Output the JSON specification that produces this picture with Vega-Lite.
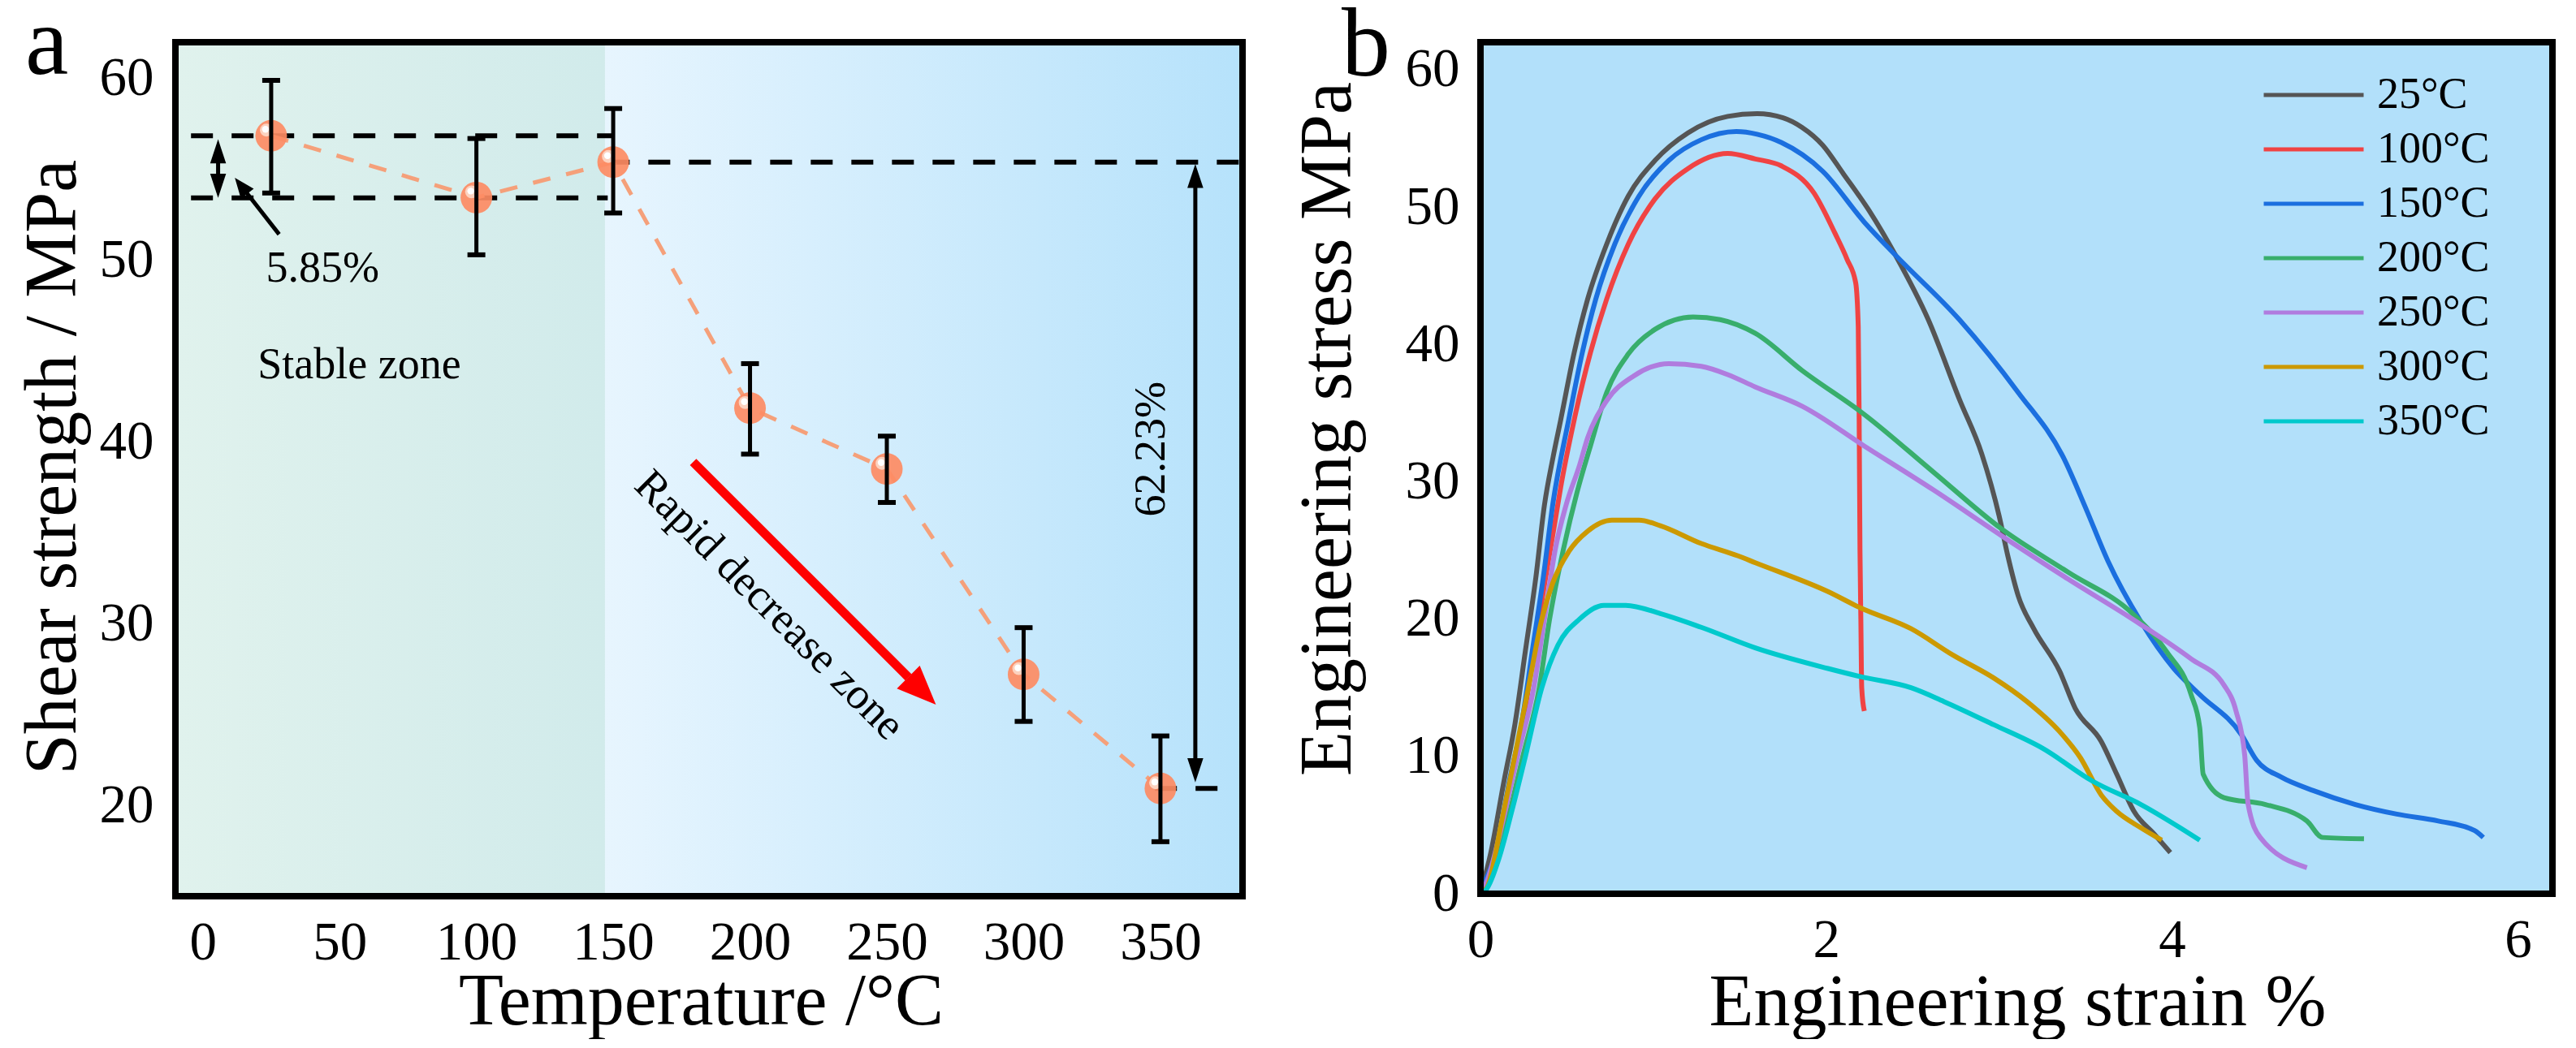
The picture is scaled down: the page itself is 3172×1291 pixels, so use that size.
{
  "$schema": "https://vega.github.io/schema/vega-lite/v6.json",
  "background": "white",
  "padding": {"left": 19, "top": -5, "right": 0, "bottom": 0},
  "bounds": "flush",
  "spacing": 293,
  "config": {
    "font": "Liberation Serif",
    "view": {"stroke": null},
    "axis": {
      "zindex": 2, "domain": false, "grid": false,
      "labelFont": "Liberation Serif", "labelFontSize": 67, "labelColor": "black",
      "labelFlush": false, "labelOverlap": false, "labelBound": false,
      "titleFont": "Liberation Serif", "titleFontSize": 90, "titleFontWeight": "normal", "titleColor": "black",
      "tickColor": "black", "tickWidth": 7
    }
  },
  "hconcat": [
    {
      "width": 1314,
      "height": 1052,
      "title": {"text": "a", "anchor": "start", "frame": "group", "fontSize": 120, "font": "Liberation Serif", "fontWeight": "normal", "color": "black", "offset": 0, "dx": -185, "dy": 163, "baseline": "alphabetic"},
      "layer": [
        {
          "data": {"values": [{"x0": -10, "x1": 147}]},
          "mark": {"type": "rect", "fill": {"gradient": "linear", "x1": 0, "y1": 0, "x2": 1, "y2": 0, "stops": [{"offset": 0, "color": "#e0f2ed"}, {"offset": 1, "color": "#d1ebeb"}]}},
          "encoding": {
            "x": {
              "field": "x0", "type": "quantitative",
              "scale": {"domain": [-10, 380], "nice": false, "zero": false},
              "title": "Temperature /°C",
              "axis": {
                "values": [0, 25, 50, 75, 100, 125, 150, 175, 200, 225, 250, 275, 300, 325, 350, 375],
                "labelExpr": "datum.value % 50 === 0 ? '' + datum.value : ''",
                "tickSize": {"condition": {"test": "datum.value % 50 === 0", "value": -17}, "value": -9},
                "labelPadding": 94, "labelBaseline": "alphabetic",
                "titleX": 647, "titleY": 157, "titleBaseline": "alphabetic"
              }
            },
            "x2": {"field": "x1"}
          }
        },
        {
          "data": {"values": [{"x0": 147, "x1": 380}]},
          "mark": {"type": "rect", "fill": {"gradient": "linear", "x1": 0, "y1": 0, "x2": 1, "y2": 0, "stops": [{"offset": 0, "color": "#e7f5fe"}, {"offset": 1, "color": "#b6e2fb"}]}},
          "encoding": {"x": {"field": "x0", "type": "quantitative"}, "x2": {"field": "x1"}}
        },
        {
          "data": {"values": [
            {"x0": -4.3, "x1": 150, "y": 56.85},
            {"x0": -4.3, "x1": 148, "y": 53.43},
            {"x0": 148, "x1": 380, "y": 55.4},
            {"x0": 348, "x1": 372, "y": 20.93}
          ]},
          "mark": {"type": "rule", "color": "black", "strokeWidth": 6, "strokeDash": [27, 23]},
          "encoding": {
            "x": {"field": "x0", "type": "quantitative"},
            "x2": {"field": "x1"},
            "y": {
              "field": "y", "type": "quantitative",
              "scale": {"domain": [15, 62], "nice": false, "zero": false},
              "title": "Shear strength / MPa",
              "axis": {
                "values": [20, 25, 30, 35, 40, 45, 50, 55, 60],
                "labelExpr": "datum.value % 10 === 0 ? '' + datum.value : ''",
                "tickSize": {"condition": {"test": "datum.value % 10 === 0", "value": -19}, "value": -10},
                "labelPadding": 46,
                "titleX": -124, "titleY": 523, "titleBaseline": "alphabetic", "titleAngle": 270
              }
            }
          }
        },
        {
          "data": {"name": "shear"},
          "mark": {"type": "line", "color": "#f5a07a", "strokeWidth": 5, "strokeDash": [22, 20]},
          "encoding": {"x": {"field": "T", "type": "quantitative"}, "y": {"field": "S", "type": "quantitative"}}
        },
        {
          "data": {"name": "shear"},
          "mark": {"type": "circle", "color": "#fd8b63", "opacity": 0.92, "size": 1520},
          "encoding": {"x": {"field": "T", "type": "quantitative"}, "y": {"field": "S", "type": "quantitative"}}
        },
        {
          "data": {"name": "shear"},
          "mark": {"type": "circle", "color": "#fcd2bf", "opacity": 1, "size": 250, "xOffset": -6, "yOffset": -7},
          "encoding": {"x": {"field": "T", "type": "quantitative"}, "y": {"field": "S", "type": "quantitative"}}
        },
        {
          "data": {"name": "shear"},
          "mark": {"type": "circle", "color": "white", "opacity": 1, "size": 70, "xOffset": -7, "yOffset": -8},
          "encoding": {"x": {"field": "T", "type": "quantitative"}, "y": {"field": "S", "type": "quantitative"}}
        },
        {
          "data": {"name": "shear"},
          "mark": {"type": "rule", "color": "black", "strokeWidth": 5},
          "encoding": {"x": {"field": "T", "type": "quantitative"}, "y": {"field": "lo", "type": "quantitative"}, "y2": {"field": "hi"}}
        },
        {
          "data": {"name": "shear"},
          "mark": {"type": "tick", "color": "black", "orient": "horizontal", "size": 22, "thickness": 6, "opacity": 1},
          "encoding": {"x": {"field": "T", "type": "quantitative"}, "y": {"field": "lo", "type": "quantitative"}}
        },
        {
          "data": {"name": "shear"},
          "mark": {"type": "tick", "color": "black", "orient": "horizontal", "size": 22, "thickness": 6, "opacity": 1},
          "encoding": {"x": {"field": "T", "type": "quantitative"}, "y": {"field": "hi", "type": "quantitative"}}
        },
        {
          "data": {"values": [{"x": 179.2, "y": 38.9, "x2": 257.9, "y2": 27.05}]},
          "mark": {"type": "rule", "color": "#ff0000", "strokeWidth": 11},
          "encoding": {"x": {"field": "x", "type": "quantitative"}, "y": {"field": "y", "type": "quantitative"}, "x2": {"field": "x2"}, "y2": {"field": "y2"}}
        },
        {
          "data": {"values": [{"x": 262.9, "y": 26.3}]},
          "mark": {"type": "point", "shape": "M0,-1L0.83,1L-0.83,1Z", "filled": true, "color": "#ff0000", "opacity": 1, "size": 2304, "angle": 135},
          "encoding": {"x": {"field": "x", "type": "quantitative"}, "y": {"field": "y", "type": "quantitative"}}
        },
        {
          "data": {"values": [
            {"x": 5.6, "y": 56.0, "x2": 5.6, "y2": 54.1},
            {"x": 27.9, "y": 51.43, "x2": 14.0, "y2": 54.1},
            {"x": 362.75, "y": 54.64, "x2": 362.75, "y2": 21.93}
          ]},
          "mark": {"type": "rule", "color": "black", "strokeWidth": 5},
          "encoding": {"x": {"field": "x", "type": "quantitative"}, "y": {"field": "y", "type": "quantitative"}, "x2": {"field": "x2"}, "y2": {"field": "y2"}}
        },
        {
          "data": {"values": [{"x": 5.6, "y": 56.0}, {"x": 362.75, "y": 54.64}]},
          "mark": {"type": "point", "shape": "M0,-1L0.66,1L-0.66,1Z", "filled": true, "color": "black", "opacity": 1, "size": 880, "angle": 0},
          "encoding": {"x": {"field": "x", "type": "quantitative"}, "y": {"field": "y", "type": "quantitative"}}
        },
        {
          "data": {"values": [{"x": 5.6, "y": 54.1}, {"x": 362.75, "y": 21.93}]},
          "mark": {"type": "point", "shape": "M0,-1L0.66,1L-0.66,1Z", "filled": true, "color": "black", "opacity": 1, "size": 880, "angle": 180},
          "encoding": {"x": {"field": "x", "type": "quantitative"}, "y": {"field": "y", "type": "quantitative"}}
        },
        {
          "data": {"values": [{"x": 14.0, "y": 54.1}]},
          "mark": {"type": "point", "shape": "M0,-1L0.8,1L-0.8,1Z", "filled": true, "color": "black", "opacity": 1, "size": 625, "angle": -38},
          "encoding": {"x": {"field": "x", "type": "quantitative"}, "y": {"field": "y", "type": "quantitative"}}
        },
        {
          "data": {"values": [{"label": "5.85%", "x": 43.8, "y": 48.8}, {"label": "Stable zone", "x": 57.2, "y": 43.5}]},
          "mark": {"type": "text", "font": "Liberation Serif", "fontSize": 54, "color": "black", "align": "center", "baseline": "alphabetic"},
          "encoding": {"x": {"field": "x", "type": "quantitative"}, "y": {"field": "y", "type": "quantitative"}, "text": {"field": "label"}}
        },
        {
          "data": {"values": [{"label": "62.23%", "x": 351.5, "y": 39.6}]},
          "mark": {"type": "text", "font": "Liberation Serif", "fontSize": 54, "color": "black", "align": "center", "baseline": "alphabetic", "angle": 270},
          "encoding": {"x": {"field": "x", "type": "quantitative"}, "y": {"field": "y", "type": "quantitative"}, "text": {"field": "label"}}
        },
        {
          "data": {"values": [{"label": "Rapid decrease zone", "x": 207, "y": 31}]},
          "mark": {"type": "text", "font": "Liberation Serif", "fontSize": 54, "color": "black", "align": "center", "baseline": "middle", "angle": 45},
          "encoding": {"x": {"field": "x", "type": "quantitative"}, "y": {"field": "y", "type": "quantitative"}, "text": {"field": "label"}}
        },
        {
          "data": {"values": [{"x0": -10, "x1": 380, "y0": 15, "y1": 62}]},
          "mark": {"type": "rect", "fillOpacity": 0, "stroke": "black", "strokeWidth": 8},
          "encoding": {"x": {"field": "x0", "type": "quantitative"}, "x2": {"field": "x1"}, "y": {"field": "y0", "type": "quantitative"}, "y2": {"field": "y1"}}
        }
      ]
    },
    {
      "width": 1320,
      "height": 1049,
      "title": {"text": "b", "anchor": "start", "frame": "group", "fontSize": 120, "font": "Liberation Serif", "fontWeight": "normal", "color": "black", "offset": 0, "dx": -171, "dy": 165, "baseline": "alphabetic"},
      "layer": [
        {
          "data": {"values": [{"x0": 0, "x1": 6.2}]},
          "mark": {"type": "rect", "fill": "#b2e0fa"},
          "encoding": {
            "x": {
              "field": "x0", "type": "quantitative",
              "scale": {"domain": [0, 6.2], "nice": false, "zero": false},
              "title": "Engineering strain %",
              "axis": {
                "values": [0, 1, 2, 3, 4, 5, 6],
                "labelExpr": "datum.value % 2 === 0 ? '' + datum.value : ''",
                "tickSize": {"condition": {"test": "datum.value % 2 === 0", "value": -20}, "value": -10},
                "labelPadding": 97, "labelBaseline": "alphabetic",
                "titleX": 661, "titleY": 161, "titleBaseline": "alphabetic"
              }
            },
            "x2": {"field": "x1"}
          }
        },
        {
          "data": {"name": "curves"},
          "mark": {"type": "line", "strokeWidth": 6, "interpolate": "monotone"},
          "encoding": {
            "x": {"field": "e", "type": "quantitative"},
            "y": {
              "field": "t", "type": "quantitative",
              "scale": {"domain": [0, 62], "nice": false, "zero": false},
              "title": "Engineering stress MPa",
              "axis": {
                "values": [0, 5, 10, 15, 20, 25, 30, 35, 40, 45, 50, 55, 60],
                "labelExpr": "datum.value % 10 === 0 ? '' + datum.value : ''",
                "tickSize": {"condition": {"test": "datum.value % 10 === 0", "value": -18}, "value": -9},
                "labelPadding": 44,
                "titleX": -161, "titleY": 476, "titleBaseline": "alphabetic", "titleAngle": 270
              }
            },
            "color": {
              "field": "s", "type": "nominal",
              "scale": {
                "domain": ["25°C", "100°C", "150°C", "200°C", "250°C", "300°C", "350°C"],
                "range": ["#555555", "#f04343", "#1b6fdf", "#38ae6c", "#b07cde", "#cc9900", "#00c9cc"]
              },
              "legend": {
                "title": null, "orient": "none", "legendX": 2569, "legendY": 38, "padding": 0,
                "symbolType": "stroke", "symbolSize": 15129, "symbolStrokeWidth": 5,
                "clipHeight": 54, "rowPadding": 13, "labelOffset": 14,
                "labelFont": "Liberation Serif", "labelFontSize": 54, "labelColor": "black", "labelLimit": 400
              }
            }
          }
        },
        {
          "data": {"values": [{"x0": 0, "x1": 6.2, "y0": 0, "y1": 62}]},
          "mark": {"type": "rect", "fillOpacity": 0, "stroke": "black", "strokeWidth": 8},
          "encoding": {"x": {"field": "x0", "type": "quantitative"}, "x2": {"field": "x1"}, "y": {"field": "y0", "type": "quantitative"}, "y2": {"field": "y1"}}
        }
      ]
    }
  ],
  "datasets": {
    "shear": [
      {"T": 25, "S": 56.85, "lo": 53.7, "hi": 59.9},
      {"T": 100, "S": 53.45, "lo": 50.3, "hi": 56.7},
      {"T": 150, "S": 55.4, "lo": 52.6, "hi": 58.35},
      {"T": 200, "S": 41.86, "lo": 39.33, "hi": 44.31},
      {"T": 250, "S": 38.51, "lo": 36.67, "hi": 40.32},
      {"T": 300, "S": 27.21, "lo": 24.62, "hi": 29.78},
      {"T": 350, "S": 20.93, "lo": 18.0, "hi": 23.82}
    ],
    "curves": [
      {"s": "25°C", "e": 0, "t": 0}, {"s": "25°C", "e": 0.06, "t": 3}, {"s": "25°C", "e": 0.136, "t": 8.2}, {"s": "25°C", "e": 0.2, "t": 12.4},
      {"s": "25°C", "e": 0.26, "t": 17.7}, {"s": "25°C", "e": 0.32, "t": 23}, {"s": "25°C", "e": 0.37, "t": 28.3}, {"s": "25°C", "e": 0.42, "t": 31.8},
      {"s": "25°C", "e": 0.464, "t": 34.5}, {"s": "25°C", "e": 0.542, "t": 39.4}, {"s": "25°C", "e": 0.62, "t": 43.3}, {"s": "25°C", "e": 0.73, "t": 47.3},
      {"s": "25°C", "e": 0.855, "t": 50.8}, {"s": "25°C", "e": 1.01, "t": 53.4}, {"s": "25°C", "e": 1.2, "t": 55.4}, {"s": "25°C", "e": 1.43, "t": 56.6},
      {"s": "25°C", "e": 1.6, "t": 56.8}, {"s": "25°C", "e": 1.75, "t": 56.5}, {"s": "25°C", "e": 1.86, "t": 55.8}, {"s": "25°C", "e": 1.98, "t": 54.5},
      {"s": "25°C", "e": 2.1, "t": 52.4}, {"s": "25°C", "e": 2.25, "t": 49.7}, {"s": "25°C", "e": 2.4, "t": 46.5}, {"s": "25°C", "e": 2.59, "t": 41.8},
      {"s": "25°C", "e": 2.77, "t": 36.0}, {"s": "25°C", "e": 2.9, "t": 32.0}, {"s": "25°C", "e": 3.0, "t": 27.5}, {"s": "25°C", "e": 3.05, "t": 24.6},
      {"s": "25°C", "e": 3.11, "t": 21.7}, {"s": "25°C", "e": 3.2, "t": 19.3}, {"s": "25°C", "e": 3.35, "t": 16.2}, {"s": "25°C", "e": 3.44, "t": 13.5},
      {"s": "25°C", "e": 3.59, "t": 11.1}, {"s": "25°C", "e": 3.68, "t": 8.7}, {"s": "25°C", "e": 3.78, "t": 6.0}, {"s": "25°C", "e": 3.9, "t": 4.3},
      {"s": "25°C", "e": 3.99, "t": 3.0},

      {"s": "100°C", "e": 0, "t": 0}, {"s": "100°C", "e": 0.095, "t": 3}, {"s": "100°C", "e": 0.175, "t": 8.2}, {"s": "100°C", "e": 0.245, "t": 12.4},
      {"s": "100°C", "e": 0.31, "t": 17.7}, {"s": "100°C", "e": 0.37, "t": 22.5}, {"s": "100°C", "e": 0.43, "t": 27}, {"s": "100°C", "e": 0.464, "t": 29.6},
      {"s": "100°C", "e": 0.542, "t": 34.5}, {"s": "100°C", "e": 0.636, "t": 39.4}, {"s": "100°C", "e": 0.73, "t": 43.3}, {"s": "100°C", "e": 0.855, "t": 47.3},
      {"s": "100°C", "e": 1.01, "t": 50.6}, {"s": "100°C", "e": 1.2, "t": 52.8}, {"s": "100°C", "e": 1.43, "t": 53.9}, {"s": "100°C", "e": 1.59, "t": 53.5},
      {"s": "100°C", "e": 1.74, "t": 53.0}, {"s": "100°C", "e": 1.93, "t": 51.0}, {"s": "100°C", "e": 2.05, "t": 48.1}, {"s": "100°C", "e": 2.12, "t": 46.2},
      {"s": "100°C", "e": 2.17, "t": 44.5}, {"s": "100°C", "e": 2.185, "t": 41.3}, {"s": "100°C", "e": 2.19, "t": 35}, {"s": "100°C", "e": 2.195, "t": 25},
      {"s": "100°C", "e": 2.2, "t": 20}, {"s": "100°C", "e": 2.205, "t": 15}, {"s": "100°C", "e": 2.22, "t": 13.3},

      {"s": "150°C", "e": 0, "t": 0}, {"s": "150°C", "e": 0.03, "t": 1}, {"s": "150°C", "e": 0.089, "t": 3}, {"s": "150°C", "e": 0.167, "t": 8.2},
      {"s": "150°C", "e": 0.238, "t": 12.4}, {"s": "150°C", "e": 0.3, "t": 17.7}, {"s": "150°C", "e": 0.363, "t": 23}, {"s": "150°C", "e": 0.42, "t": 28.5},
      {"s": "150°C", "e": 0.51, "t": 34.5}, {"s": "150°C", "e": 0.589, "t": 39.4}, {"s": "150°C", "e": 0.667, "t": 43.3}, {"s": "150°C", "e": 0.777, "t": 47.3},
      {"s": "150°C", "e": 0.917, "t": 50.8}, {"s": "150°C", "e": 1.09, "t": 53.4}, {"s": "150°C", "e": 1.277, "t": 54.9}, {"s": "150°C", "e": 1.48, "t": 55.5},
      {"s": "150°C", "e": 1.6, "t": 55.3}, {"s": "150°C", "e": 1.74, "t": 54.7}, {"s": "150°C", "e": 1.98, "t": 52.6}, {"s": "150°C", "e": 2.22, "t": 48.9},
      {"s": "150°C", "e": 2.4, "t": 46.5}, {"s": "150°C", "e": 2.77, "t": 41.8}, {"s": "150°C", "e": 3.11, "t": 36.5}, {"s": "150°C", "e": 3.37, "t": 31.8},
      {"s": "150°C", "e": 3.5, "t": 28.1}, {"s": "150°C", "e": 3.63, "t": 24.2}, {"s": "150°C", "e": 3.82, "t": 19.8}, {"s": "150°C", "e": 4.01, "t": 16.4},
      {"s": "150°C", "e": 4.16, "t": 14.5}, {"s": "150°C", "e": 4.4, "t": 11.6}, {"s": "150°C", "e": 4.49, "t": 9.7}, {"s": "150°C", "e": 4.63, "t": 8.5},
      {"s": "150°C", "e": 4.82, "t": 7.5}, {"s": "150°C", "e": 5.06, "t": 6.5}, {"s": "150°C", "e": 5.3, "t": 5.8}, {"s": "150°C", "e": 5.54, "t": 5.3},
      {"s": "150°C", "e": 5.75, "t": 4.6}, {"s": "150°C", "e": 5.8, "t": 4.1},

      {"s": "200°C", "e": 0, "t": 0}, {"s": "200°C", "e": 0.05, "t": 1}, {"s": "200°C", "e": 0.152, "t": 5.1}, {"s": "200°C", "e": 0.245, "t": 10},
      {"s": "200°C", "e": 0.34, "t": 15}, {"s": "200°C", "e": 0.4, "t": 20}, {"s": "200°C", "e": 0.48, "t": 25.1}, {"s": "200°C", "e": 0.56, "t": 29.3},
      {"s": "200°C", "e": 0.636, "t": 32.6}, {"s": "200°C", "e": 0.73, "t": 36.5}, {"s": "200°C", "e": 0.855, "t": 39.3}, {"s": "200°C", "e": 1.01, "t": 41.1},
      {"s": "200°C", "e": 1.23, "t": 42.0}, {"s": "200°C", "e": 1.386, "t": 41.8}, {"s": "200°C", "e": 1.59, "t": 40.8}, {"s": "200°C", "e": 1.86, "t": 38.1},
      {"s": "200°C", "e": 2.22, "t": 34.9}, {"s": "200°C", "e": 2.62, "t": 30.7}, {"s": "200°C", "e": 3.01, "t": 26.6}, {"s": "200°C", "e": 3.4, "t": 23.4},
      {"s": "200°C", "e": 3.78, "t": 20.3}, {"s": "200°C", "e": 3.97, "t": 17.6}, {"s": "200°C", "e": 4.11, "t": 14.5}, {"s": "200°C", "e": 4.16, "t": 12.1},
      {"s": "200°C", "e": 4.18, "t": 8.7}, {"s": "200°C", "e": 4.3, "t": 7.0}, {"s": "200°C", "e": 4.54, "t": 6.5}, {"s": "200°C", "e": 4.78, "t": 5.3},
      {"s": "200°C", "e": 4.87, "t": 4.1}, {"s": "200°C", "e": 5.11, "t": 4.0},

      {"s": "250°C", "e": 0, "t": 0}, {"s": "250°C", "e": 0.04, "t": 1}, {"s": "250°C", "e": 0.105, "t": 4}, {"s": "250°C", "e": 0.214, "t": 10},
      {"s": "250°C", "e": 0.308, "t": 15}, {"s": "250°C", "e": 0.37, "t": 20}, {"s": "250°C", "e": 0.433, "t": 25.1}, {"s": "250°C", "e": 0.495, "t": 28.3},
      {"s": "250°C", "e": 0.573, "t": 31.2}, {"s": "250°C", "e": 0.62, "t": 33.2}, {"s": "250°C", "e": 0.73, "t": 35.9}, {"s": "250°C", "e": 0.886, "t": 37.7},
      {"s": "250°C", "e": 1.09, "t": 38.6}, {"s": "250°C", "e": 1.277, "t": 38.4}, {"s": "250°C", "e": 1.43, "t": 37.8}, {"s": "250°C", "e": 1.59, "t": 36.9},
      {"s": "250°C", "e": 1.86, "t": 35.5}, {"s": "250°C", "e": 2.22, "t": 32.6}, {"s": "250°C", "e": 2.62, "t": 29.4}, {"s": "250°C", "e": 3.01, "t": 26.1},
      {"s": "250°C", "e": 3.4, "t": 22.9}, {"s": "250°C", "e": 3.82, "t": 19.6}, {"s": "250°C", "e": 4.11, "t": 17.1}, {"s": "250°C", "e": 4.3, "t": 15.2},
      {"s": "250°C", "e": 4.37, "t": 13.3}, {"s": "250°C", "e": 4.42, "t": 10.1}, {"s": "250°C", "e": 4.44, "t": 6.5}, {"s": "250°C", "e": 4.51, "t": 4.1},
      {"s": "250°C", "e": 4.78, "t": 1.9},

      {"s": "300°C", "e": 0, "t": 0}, {"s": "300°C", "e": 0.04, "t": 0.5}, {"s": "300°C", "e": 0.12, "t": 5.1}, {"s": "300°C", "e": 0.198, "t": 10},
      {"s": "300°C", "e": 0.277, "t": 15}, {"s": "300°C", "e": 0.355, "t": 20}, {"s": "300°C", "e": 0.417, "t": 22.6}, {"s": "300°C", "e": 0.51, "t": 24.9},
      {"s": "300°C", "e": 0.62, "t": 26.4}, {"s": "300°C", "e": 0.76, "t": 27.2}, {"s": "300°C", "e": 0.917, "t": 27.2}, {"s": "300°C", "e": 1.04, "t": 26.8},
      {"s": "300°C", "e": 1.277, "t": 25.5}, {"s": "300°C", "e": 1.49, "t": 24.6}, {"s": "300°C", "e": 1.59, "t": 24.1}, {"s": "300°C", "e": 2.01, "t": 22.0},
      {"s": "300°C", "e": 2.2, "t": 20.8}, {"s": "300°C", "e": 2.49, "t": 19.3}, {"s": "300°C", "e": 2.73, "t": 17.4}, {"s": "300°C", "e": 2.97, "t": 15.7},
      {"s": "300°C", "e": 3.16, "t": 14.0}, {"s": "300°C", "e": 3.35, "t": 11.8}, {"s": "300°C", "e": 3.47, "t": 9.9}, {"s": "300°C", "e": 3.59, "t": 7.2},
      {"s": "300°C", "e": 3.68, "t": 6.0}, {"s": "300°C", "e": 3.82, "t": 4.8}, {"s": "300°C", "e": 3.94, "t": 3.9},

      {"s": "350°C", "e": 0, "t": 0}, {"s": "350°C", "e": 0.027, "t": 0.2}, {"s": "350°C", "e": 0.105, "t": 2.5}, {"s": "350°C", "e": 0.183, "t": 6.1},
      {"s": "350°C", "e": 0.26, "t": 10}, {"s": "350°C", "e": 0.355, "t": 15}, {"s": "350°C", "e": 0.448, "t": 18.1}, {"s": "350°C", "e": 0.573, "t": 20},
      {"s": "350°C", "e": 0.714, "t": 21}, {"s": "350°C", "e": 0.84, "t": 21}, {"s": "350°C", "e": 1.04, "t": 20.4}, {"s": "350°C", "e": 1.277, "t": 19.4},
      {"s": "350°C", "e": 1.59, "t": 17.9}, {"s": "350°C", "e": 2.01, "t": 16.4}, {"s": "350°C", "e": 2.2, "t": 15.8}, {"s": "350°C", "e": 2.49, "t": 15.0},
      {"s": "350°C", "e": 2.68, "t": 14.0}, {"s": "350°C", "e": 2.97, "t": 12.3}, {"s": "350°C", "e": 3.25, "t": 10.6}, {"s": "350°C", "e": 3.54, "t": 8.2},
      {"s": "350°C", "e": 3.82, "t": 6.5}, {"s": "350°C", "e": 4.16, "t": 3.9}
    ]
  }
}
